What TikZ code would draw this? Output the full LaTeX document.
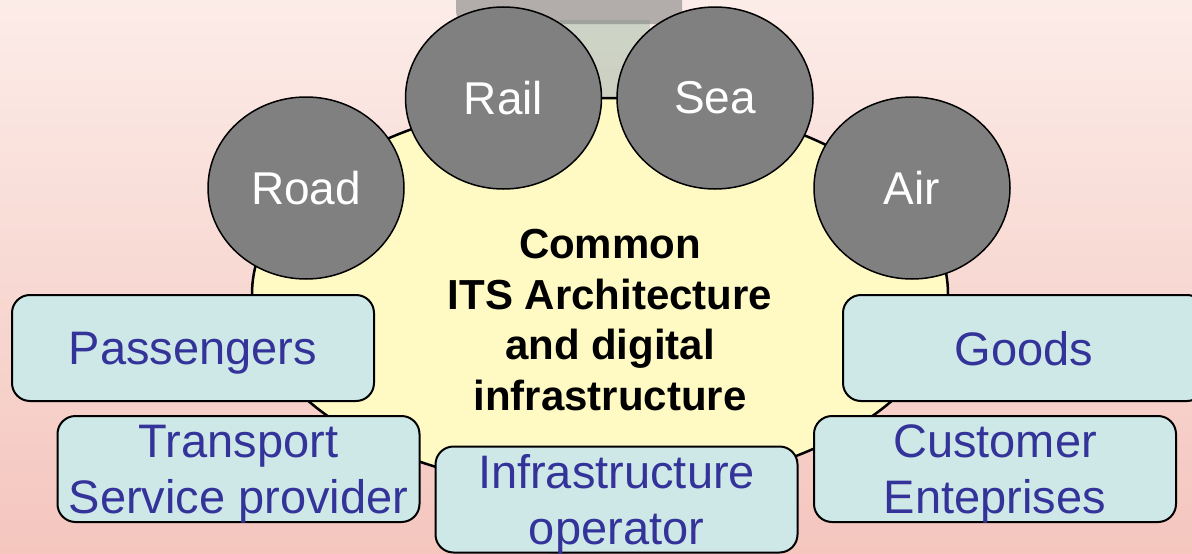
\documentclass[tikz,border=0pt]{standalone}
\usepackage{fontspec}
\setmainfont{Liberation Sans}
\usetikzlibrary{shapes.geometric}
\definecolor{bgtop}{RGB}{252,236,232}
\definecolor{bgbot}{RGB}{244,198,190}
\definecolor{hubfill}{RGB}{255,250,196}
\definecolor{modefill}{RGB}{128,128,128}
\definecolor{boxfill}{RGB}{206,232,232}
\definecolor{boxtext}{RGB}{51,51,153}
\definecolor{lhgray}{RGB}{130,130,130}
\definecolor{lhgreen}{RGB}{120,170,140}
\tikzset{
  hub/.style={ellipse, draw=black, line width=2.5pt, fill=hubfill, inner sep=0pt, minimum width=696pt, minimum height=392pt},
  mode/.style={ellipse, draw=black, line width=1.5pt, fill=modefill, inner sep=0pt, minimum width=196pt, minimum height=182pt, text=white, font=\fontsize{46}{55}\selectfont},
  actor/.style={rectangle, rounded corners=18pt, draw=black, line width=2pt, fill=boxfill, inner sep=0pt, minimum width=362pt, minimum height=106pt, text=boxtext, align=center, text depth=0pt, font=\fontsize{47}{56}\selectfont},
  hublabel/.style={align=center, font=\fontsize{42}{50.5}\selectfont\bfseries, text=black}
}
\begin{document}
\begin{tikzpicture}[x=1pt,y=-1pt]
\useasboundingbox (0,0) rectangle (1192,554);
\clip (0,0) rectangle (1192,554);
\shade[top color=bgtop, bottom color=bgbot] (0,0) rectangle (1192,554);
% faint lighthouse from the background photo
\fill[lhgreen, opacity=0.35] (560,20) rectangle (650,110);
\fill[lhgray, opacity=0.6, rounded corners=12pt] (456,-14) rectangle (682,24);
\fill[lhgray, opacity=0.3] (548,520) rectangle (600,554);
% hub
\node[hub] (hub) at (600,294) {};
\node[hublabel] (hubtext) at (610,320) {Common\\ITS Architecture\\and digital\\infrastructure};
% transport modes
\node[mode] (road) at (306,188) {Road};
\node[mode] (rail) at (503.5,98) {Rail};
\node[mode] (sea) at (715,98) {Sea};
\node[mode] (air) at (912,188) {Air};
% actors
\node[actor] (pass) at (193,348) {Passengers};
\node[actor] (tsp) at (238.5,469) {Transport\\Service provider};
\node[actor] (infra) at (616.5,499.5) {Infrastructure\\operator};
\node[actor] (goods) at (1024,348) {Goods};
\node[actor] (cust) at (995,469) {Customer\\Enteprises};
\end{tikzpicture}
\end{document}
